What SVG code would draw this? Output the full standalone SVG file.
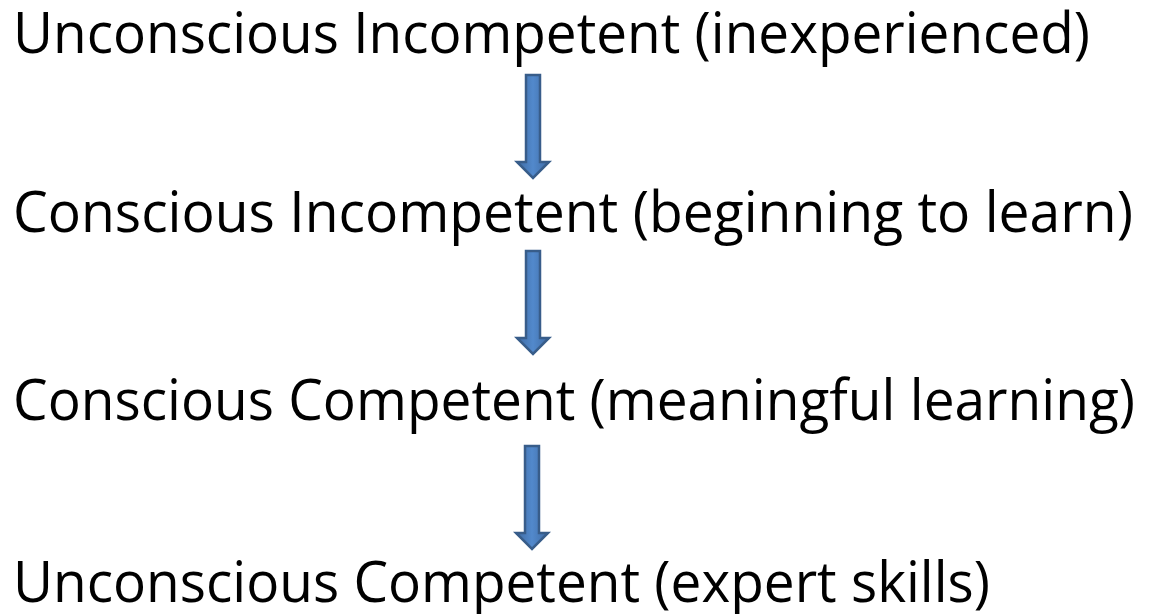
<svg xmlns="http://www.w3.org/2000/svg" width="1150" height="614" viewBox="0 0 1150 614">
  <style>
    .stage { font-family: "Open Sans", "Noto Sans", "Liberation Sans", sans-serif; font-size: 57px; fill: #000000; }
    .arrow { fill: url(#shaftFill); stroke: #385D8A; stroke-width: 2.5; stroke-linejoin: miter; }
  </style>
  <defs>
    <linearGradient id="shaftFill" x1="0" y1="0" x2="1" y2="0">
      <stop offset="0" stop-color="#3F6BA3"/>
      <stop offset="0.5" stop-color="#5289CC"/>
      <stop offset="1" stop-color="#3F6BA3"/>
    </linearGradient>
  </defs>
  <rect width="1150" height="614" fill="#ffffff"/>

  <g id="stage-unconscious-incompetent">
    <text class="stage" x="13" y="53" textLength="1077" lengthAdjust="spacingAndGlyphs">Unconscious Incompetent (inexperienced)</text>
  </g>
  <g id="stage-conscious-incompetent">
    <text class="stage" x="13" y="232" textLength="1120" lengthAdjust="spacingAndGlyphs">Conscious Incompetent (beginning to learn)</text>
  </g>
  <g id="stage-conscious-competent">
    <text class="stage" x="13" y="420" textLength="1122" lengthAdjust="spacingAndGlyphs">Conscious Competent (meaningful learning)</text>
  </g>
  <g id="stage-unconscious-competent">
    <text class="stage" x="13" y="602" textLength="977" lengthAdjust="spacingAndGlyphs">Unconscious Competent (expert skills)</text>
  </g>

  <g id="connectors">
    <path class="arrow" d="M526 75 H540 V162 H549 L533 178 L517 162 H526 Z"/>
    <path class="arrow" d="M526 251 H540 V338 H549 L533 354 L517 338 H526 Z"/>
    <path class="arrow" d="M525 446 H539 V533 H548 L532 549 L516 533 H525 Z"/>
  </g>
</svg>
